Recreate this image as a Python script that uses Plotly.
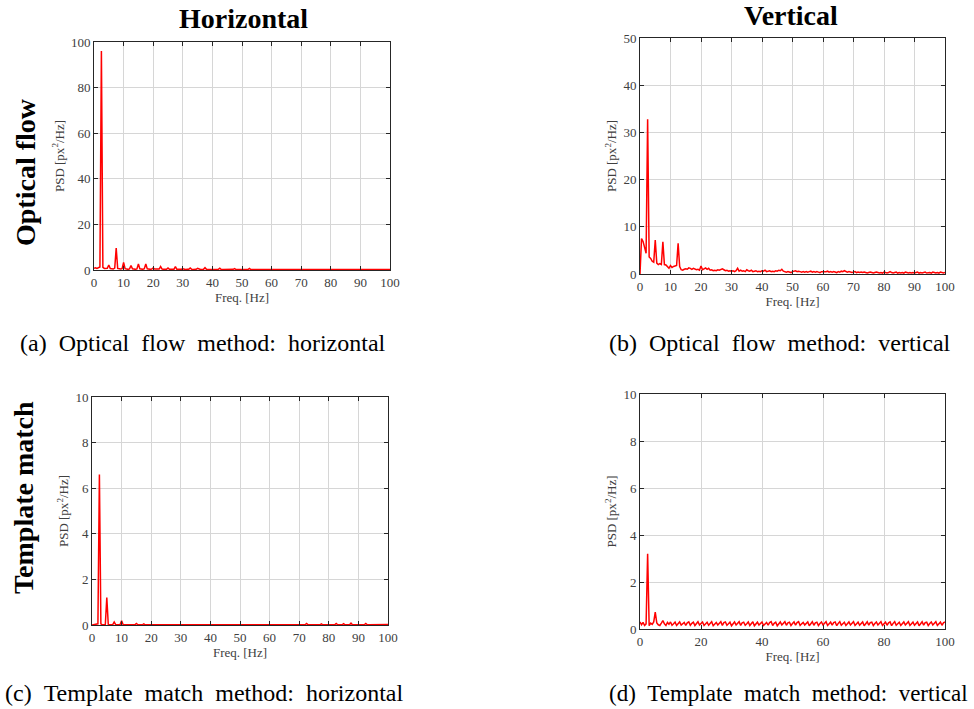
import plotly.graph_objects as go

# ---------------- data ----------------
FREQ_HZ = [i * 0.5 for i in range(201)]  # FFT bin grid 0..100 Hz

OF_H = [  # Optical flow, horizontal PSD
    0.8, 1.0, 0.7, 0.9, 1.3, 96.0, 1.2, 0.7, 0.6, 0.8,
    2.2, 0.6, 0.5, 0.4, 0.8, 9.6, 0.7, 0.4, 0.4, 0.6,
    3.3, 0.6, 0.4, 0.3, 0.5, 2.0, 0.5, 0.3, 0.3, 0.5,
    2.6, 0.5, 0.3, 0.3, 0.6, 2.6, 0.5, 0.3, 0.3, 0.4,
    0.9, 0.4, 0.3, 0.3, 0.4, 1.5, 0.4, 0.3, 0.3, 0.3,
    0.9, 0.3, 0.3, 0.3, 0.3, 1.5, 0.3, 0.3, 0.2, 0.3,
    0.5, 0.3, 0.2, 0.3, 0.3, 0.9, 0.3, 0.2, 0.2, 0.3,
    0.7, 0.3, 0.2, 0.2, 0.3, 1.0, 0.3, 0.2, 0.2, 0.3,
    0.4, 0.2, 0.2, 0.2, 0.3, 0.8, 0.2, 0.2, 0.2, 0.2,
    0.4, 0.2, 0.2, 0.2, 0.3, 0.6, 0.2, 0.2, 0.2, 0.2,
    0.3, 0.2, 0.2, 0.2, 0.2, 0.7, 0.2, 0.2, 0.2, 0.2,
    0.3, 0.2, 0.2, 0.2, 0.2, 0.4, 0.2, 0.2, 0.2, 0.2,
    0.3, 0.2, 0.2, 0.2, 0.2, 0.3, 0.2, 0.2, 0.2, 0.2,
    0.3, 0.2, 0.2, 0.2, 0.2, 0.3, 0.2, 0.2, 0.2, 0.2,
    0.3, 0.2, 0.2, 0.2, 0.2, 0.3, 0.2, 0.2, 0.2, 0.2,
    0.4, 0.2, 0.2, 0.2, 0.2, 0.4, 0.2, 0.2, 0.2, 0.2,
    0.3, 0.2, 0.2, 0.2, 0.2, 0.4, 0.2, 0.2, 0.2, 0.2,
    0.3, 0.2, 0.2, 0.2, 0.2, 0.3, 0.2, 0.2, 0.2, 0.2,
    0.3, 0.2, 0.2, 0.2, 0.2, 0.3, 0.2, 0.2, 0.2, 0.2,
    0.3, 0.2, 0.2, 0.2, 0.2, 0.3, 0.2, 0.2, 0.2, 0.2,
    0.2,
]

OF_V = [  # Optical flow, vertical PSD
    0.0, 7.5, 6.9, 5.8, 4.4, 32.8, 3.6, 3.3, 2.7, 2.5,
    7.2, 2.3, 2.0, 2.2, 2.0, 6.8, 2.0, 1.9, 1.5, 1.2,
    1.8, 1.4, 1.6, 1.7, 1.8, 6.5, 1.6, 0.9, 0.8, 1.0,
    1.1, 1.0, 1.3, 1.2, 1.0, 1.2, 1.1, 0.9, 1.0, 0.8,
    1.7, 0.9, 1.1, 1.3, 1.0, 1.2, 0.8, 0.9, 0.7, 0.8,
    0.7, 0.9, 0.8, 1.0, 1.1, 0.9, 0.7, 0.8, 0.6, 0.7,
    0.6, 0.7, 0.5, 0.7, 1.2, 0.6, 0.8, 0.6, 0.7, 0.5,
    0.9, 0.7, 0.6, 0.8, 0.5, 0.6, 0.7, 0.5, 0.6, 0.5,
    0.7, 0.6, 0.8, 0.5, 0.6, 0.7, 0.5, 0.6, 0.5, 0.7,
    0.6, 0.8, 0.7, 1.0, 0.6, 0.5, 0.4, 0.5, 0.4, 0.3,
    0.5, 0.6, 0.7, 0.5, 0.6, 0.5, 0.4, 0.5, 0.4, 0.5,
    0.4, 0.5, 0.6, 0.4, 0.5, 0.4, 0.5, 0.4, 0.3, 0.5,
    0.5, 0.4, 0.5, 0.6, 0.4, 0.5, 0.4, 0.5, 0.4, 0.3,
    0.5, 0.4, 0.6, 0.5, 0.7, 0.5, 0.4, 0.5, 0.4, 0.3,
    0.4, 0.5, 0.3, 0.4, 0.3, 0.4, 0.3, 0.4, 0.3, 0.2,
    0.3, 0.4, 0.3, 0.2, 0.3, 0.4, 0.3, 0.2, 0.3, 0.2,
    0.4, 0.3, 0.2, 0.3, 0.5, 0.3, 0.2, 0.3, 0.4, 0.2,
    0.3, 0.2, 0.3, 0.2, 0.4, 0.3, 0.2, 0.3, 0.2, 0.3,
    0.2, 0.3, 0.4, 0.2, 0.3, 0.2, 0.3, 0.4, 0.2, 0.3,
    0.3, 0.2, 0.4, 0.3, 0.2, 0.3, 0.2, 0.4, 0.3, 0.2,
    0.3,
]

TM_H = [  # Template match, horizontal PSD
    0.00, 0.01, 0.01, 0.02, 0.05, 6.60, 0.05, 0.01, 0.01, 0.02,
    1.20, 0.02, 0.01, 0.01, 0.02, 0.13, 0.02, 0.01, 0.01, 0.02,
    0.18, 0.02, 0.01, 0.01, 0.01, 0.04, 0.01, 0.01, 0.01, 0.01,
    0.07, 0.01, 0.01, 0.01, 0.01, 0.05, 0.01, 0.01, 0.01, 0.01,
    0.02, 0.01, 0.01, 0.01, 0.01, 0.02, 0.01, 0.01, 0.01, 0.01,
    0.02, 0.01, 0.01, 0.01, 0.01, 0.02, 0.01, 0.01, 0.01, 0.01,
    0.02, 0.01, 0.01, 0.01, 0.01, 0.02, 0.01, 0.01, 0.01, 0.01,
    0.03, 0.01, 0.01, 0.01, 0.01, 0.02, 0.01, 0.01, 0.01, 0.01,
    0.02, 0.01, 0.01, 0.01, 0.01, 0.03, 0.01, 0.01, 0.01, 0.01,
    0.02, 0.01, 0.01, 0.01, 0.01, 0.02, 0.01, 0.01, 0.01, 0.01,
    0.02, 0.01, 0.01, 0.01, 0.01, 0.03, 0.01, 0.01, 0.01, 0.01,
    0.03, 0.01, 0.01, 0.01, 0.01, 0.02, 0.01, 0.01, 0.01, 0.01,
    0.02, 0.01, 0.01, 0.01, 0.01, 0.02, 0.01, 0.01, 0.01, 0.01,
    0.02, 0.01, 0.01, 0.01, 0.01, 0.02, 0.01, 0.01, 0.01, 0.01,
    0.03, 0.01, 0.01, 0.01, 0.01, 0.07, 0.01, 0.01, 0.01, 0.01,
    0.03, 0.01, 0.01, 0.01, 0.01, 0.05, 0.01, 0.01, 0.01, 0.01,
    0.03, 0.01, 0.01, 0.01, 0.01, 0.07, 0.01, 0.01, 0.01, 0.01,
    0.06, 0.01, 0.01, 0.01, 0.01, 0.08, 0.01, 0.01, 0.01, 0.01,
    0.03, 0.01, 0.01, 0.01, 0.01, 0.07, 0.01, 0.01, 0.01, 0.01,
    0.03, 0.01, 0.01, 0.01, 0.01, 0.04, 0.01, 0.01, 0.01, 0.01,
    0.02,
]

TM_V = [  # Template match, vertical PSD
    0.30, 0.18, 0.28, 0.15, 0.22, 3.20, 0.14, 0.25, 0.20, 0.30,
    0.72, 0.26, 0.18, 0.15, 0.25, 0.36, 0.22, 0.15, 0.28, 0.20,
    0.30, 0.16, 0.22, 0.29, 0.15, 0.24, 0.30, 0.17, 0.21, 0.28,
    0.15, 0.26, 0.30, 0.16, 0.24, 0.29, 0.15, 0.22, 0.31, 0.17,
    0.26, 0.30, 0.15, 0.23, 0.29, 0.16, 0.25, 0.31, 0.14, 0.22,
    0.28, 0.17, 0.24, 0.31, 0.15, 0.27, 0.30, 0.16, 0.22, 0.29,
    0.14, 0.25, 0.30, 0.17, 0.23, 0.31, 0.15, 0.26, 0.29, 0.16,
    0.22, 0.30, 0.15, 0.25, 0.31, 0.14, 0.23, 0.29, 0.17, 0.26,
    0.30, 0.15, 0.22, 0.28, 0.16, 0.27, 0.31, 0.15, 0.24, 0.29,
    0.14, 0.25, 0.30, 0.17, 0.22, 0.31, 0.16, 0.26, 0.29, 0.15,
    0.23, 0.30, 0.16, 0.27, 0.31, 0.15, 0.22, 0.28, 0.17, 0.25,
    0.30, 0.14, 0.24, 0.31, 0.16, 0.26, 0.29, 0.15, 0.23, 0.30,
    0.17, 0.25, 0.31, 0.15, 0.22, 0.29, 0.16, 0.27, 0.30, 0.14,
    0.24, 0.31, 0.16, 0.25, 0.29, 0.15, 0.23, 0.30, 0.17, 0.26,
    0.31, 0.15, 0.22, 0.29, 0.16, 0.25, 0.30, 0.14, 0.24, 0.31,
    0.16, 0.27, 0.29, 0.15, 0.23, 0.30, 0.17, 0.25, 0.31, 0.15,
    0.22, 0.29, 0.16, 0.26, 0.30, 0.14, 0.24, 0.31, 0.16, 0.25,
    0.29, 0.15, 0.23, 0.30, 0.17, 0.26, 0.31, 0.15, 0.22, 0.29,
    0.16, 0.25, 0.30, 0.14, 0.24, 0.31, 0.16, 0.27, 0.29, 0.15,
    0.23, 0.30, 0.17, 0.25, 0.31, 0.15, 0.22, 0.29, 0.16, 0.26,
    0.30,
]

COL_TITLES = ["Horizontal", "Vertical"]
ROW_TITLES = ["Optical flow", "Template match"]
CAPTIONS = [
    "(a) Optical flow method: horizontal",
    "(b) Optical flow method: vertical",
    "(c) Template match method: horizontal",
    "(d) Template match method: vertical",
]
X_TITLE = "Freq. [Hz]"
Y_TITLE = "PSD [px<sup>2</sup>/Hz]"

# ---------------- layout ----------------
W, H = 974, 709
FONT = "Liberation Serif, Times New Roman, serif"
TXT = "#404040"

# pixel boxes: (left, right, top, bottom)
boxes = [(94, 390, 42, 270), (640, 945, 38, 274), (92, 388, 397, 625), (640, 945, 394, 629)]
series = [OF_H, OF_V, TM_H, TM_V]
yranges = [(0, 100, 20), (0, 50, 10), (0, 10, 2), (0, 10, 2)]
xdticks = [10, 10, 10, 20]

fig = go.Figure()
for k, (b, ys) in enumerate(zip(boxes, series)):
    n = "" if k == 0 else str(k + 1)
    fig.add_trace(go.Scatter(x=FREQ_HZ, y=ys, mode="lines",
                             line=dict(color="#ff0000", width=1.5),
                             xaxis="x" + n, yaxis="y" + n, showlegend=False,
                             cliponaxis=True))
    l, r, t, btm = b
    common = dict(showgrid=True, gridcolor="#d6d6d6", gridwidth=1,
                  showline=True, linecolor="#262626", linewidth=1,
                  mirror="allticks", ticks="inside", ticklen=4, tickcolor="#262626",
                  tickfont=dict(family=FONT, size=13, color=TXT), zeroline=False,
                  tick0=0, automargin=False)
    fig.layout["xaxis" + n] = dict(common, domain=[l / W, r / W], range=[0, 100],
                                   dtick=xdticks[k], anchor="y" + n,
                                   title=dict(text=X_TITLE, standoff=4,
                                              font=dict(family=FONT, size=13, color=TXT)))
    y0, y1, dy = yranges[k]
    fig.layout["yaxis" + n] = dict(common, domain=[1 - btm / H, 1 - t / H], range=[y0, y1],
                                   dtick=dy, anchor="x" + n,
                                   title=dict(text=Y_TITLE, standoff=3,
                                              font=dict(family=FONT, size=13, color=TXT)))

anns = []
# column titles
for txt, (cx, cy) in zip(COL_TITLES, [(243, 19), (791, 16)]):
    anns.append(dict(text="<b>" + txt + "</b>", x=cx / W, y=1 - cy / H, xref="paper", yref="paper",
                     showarrow=False, xanchor="center", yanchor="middle", borderpad=0,
                     font=dict(family=FONT, size=28, color="black")))
# row titles
for txt, (cx, cy) in zip(ROW_TITLES, [(25, 172), (23, 498)]):
    anns.append(dict(text="<b>" + txt + "</b>", x=cx / W, y=1 - cy / H, xref="paper", yref="paper",
                     showarrow=False, xanchor="center", yanchor="middle", textangle=-90,
                     font=dict(family=FONT, size=28, color="black")))
# captions
for txt, (cx, cy), fs in zip(CAPTIONS, [(203, 343), (780, 343), (204, 693), (788, 693)],
                             [24, 24, 24, 23]):
    anns.append(dict(text=txt.replace(" ", " \u00a0"), x=cx / W, y=1 - cy / H,
                     xref="paper", yref="paper", showarrow=False,
                     xanchor="center", yanchor="middle",
                     font=dict(family=FONT, size=fs, color="black")))

fig.update_layout(width=W, height=H, margin=dict(l=0, r=0, t=0, b=0),
                  paper_bgcolor="white", plot_bgcolor="white", annotations=anns,
                  font=dict(family=FONT))
fig.write_html("out.html", config={"displayModeBar": False},
               post_script="document.body.style.margin='0';document.body.style.overflow='hidden';")
